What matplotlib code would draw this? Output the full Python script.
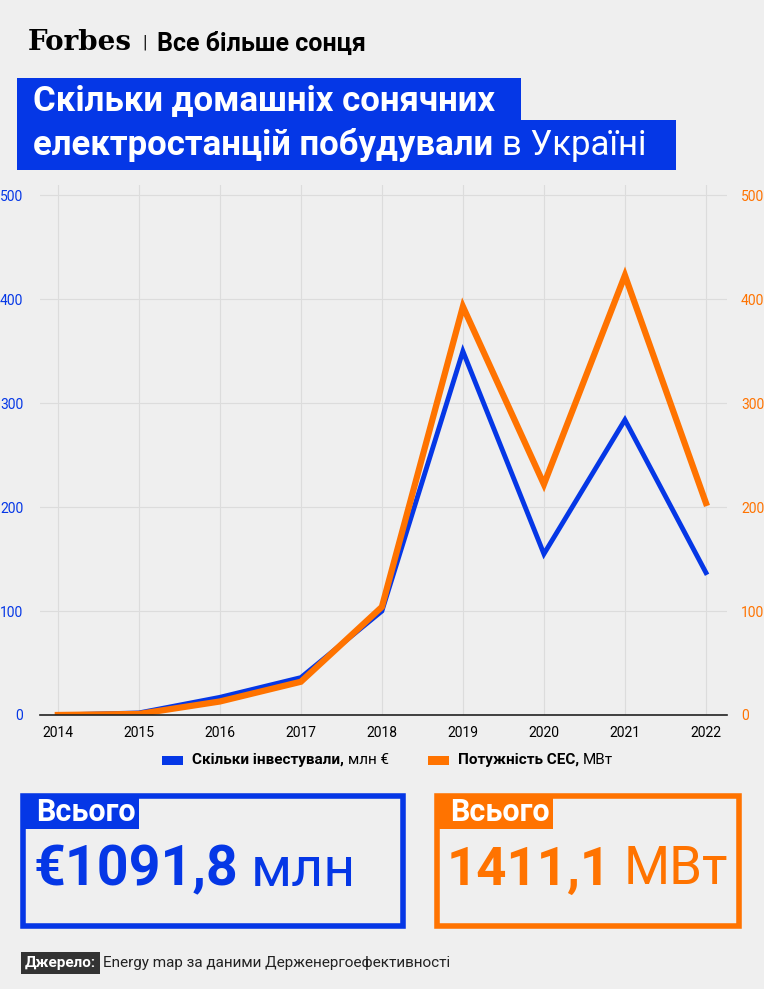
import matplotlib.pyplot as plt
from matplotlib.patches import Rectangle

years = [2014, 2015, 2016, 2017, 2018, 2019, 2020, 2021, 2022]
invest = [0, 2, 17, 36, 100, 350, 155, 284, 137]
power = [0, 1, 13, 32, 104, 393, 222, 423, 204]
yticks = [0, 100, 200, 300, 400, 500]

BLUE = '#0537e6'
ORANGE = '#ff7300'
BG = '#efefef'
W, H = 764, 989
plt.rcParams['font.family'] = ['Roboto', 'DejaVu Sans']

fig = plt.figure(figsize=(W / 100, H / 100), dpi=100, facecolor=BG)
renderer = fig.canvas.get_renderer()


def fx(px):
    return px / W


def fy(py):
    return 1 - py / H


def box(x0, y0, x1, y1, **kw):
    fig.patches.append(Rectangle((fx(x0), fy(y1)), fx(x1) - fx(x0), fy(y0) - fy(y1),
                                 transform=fig.transFigure, **kw))


def run(x, y, parts, gap=4, **kw):
    # draw text pieces one after another on one line
    for s, extra in parts:
        t = fig.text(fx(x), fy(y), s, va='center', **kw, **extra)
        bb = t.get_window_extent(renderer)
        x += bb.width + gap


# header
fig.text(fx(28), fy(43), 'Forbes', family='DejaVu Serif', fontsize=20, weight='bold',
         va='center', ha='left')
fig.text(fx(142), fy(43), '|', fontsize=14, va='center', color='#222')
fig.text(fx(157), fy(44), 'Все більше сонця', fontsize=18, va='center', weight='bold')

box(17, 78, 521, 122, color=BLUE, lw=0)
box(17, 120, 676, 170, color=BLUE, lw=0)
fig.text(fx(33), fy(101), 'Скільки домашніх сонячних', color='white', fontsize=25,
         weight='bold', va='center')
run(33, 145, [('електростанцій побудували', dict(weight='bold')), ('в Україні', {})],
    gap=9, color='white', fontsize=25)

# chart
ax = fig.add_axes([fx(40), fy(715), fx(727) - fx(40), fy(185) - fy(715)])
ax.set_facecolor(BG)
ax.plot(years, invest, color=BLUE, lw=3.5, solid_joinstyle='miter')
ax.plot(years, power, color=ORANGE, lw=4.5, solid_joinstyle='miter')
ax.set_xlim(2013.78, 2022.26)
ax.set_ylim(0, 510)
ax.set_xticks(years)
ax.set_yticks(yticks)
ax.grid(color='#dcdcdc', lw=0.8)
for s in ['top', 'left', 'right']:
    ax.spines[s].set_visible(False)
ax.spines['bottom'].set_color('#222')
ax.spines['bottom'].set_linewidth(1.2)
ax.tick_params(axis='x', length=0, labelsize=10, pad=8)
ax.tick_params(axis='y', length=0, labelsize=10, labelcolor=BLUE, pad=12)
ax2 = ax.twinx()
ax2.set_ylim(ax.get_ylim())
ax2.set_yticks(yticks)
ax2.tick_params(axis='y', length=0, labelsize=10, labelcolor=ORANGE, pad=10)
for s in ax2.spines.values():
    s.set_visible(False)

# legend
box(162, 756, 183, 765, color=BLUE, lw=0)
run(192, 760, [('Скільки інвестували,', dict(weight='bold')), ('млн €', {})], fontsize=11)
box(428, 756, 449, 765, color=ORANGE, lw=0)
run(458, 760, [('Потужність СЕС,', dict(weight='bold')), ('МВт', {})], fontsize=11)

# totals
box(23, 796, 403, 926, fill=False, ec=BLUE, lw=4)
box(21, 794, 139, 829, color=BLUE, lw=0)
fig.text(fx(36), fy(812), 'Всього', color='white', fontsize=22, weight='bold', va='center')
run(34, 870, [('€1091,8', dict(weight='bold')), ('млн', {})], gap=12,
    color=BLUE, fontsize=40)

box(437, 796, 739, 926, fill=False, ec=ORANGE, lw=4)
box(435, 794, 553, 829, color=ORANGE, lw=0)
fig.text(fx(450), fy(812), 'Всього', color='white', fontsize=22, weight='bold', va='center')
run(447, 870, [('1411,1', dict(weight='bold')), ('МВт', {})], gap=12,
    color=ORANGE, fontsize=38)

# source
fig.text(fx(25), fy(963), 'Джерело:', color='white', fontsize=11, weight='bold', va='center',
         bbox=dict(boxstyle='square,pad=0.25', fc='#333', ec='none'))
fig.text(fx(103), fy(963), 'Energy map за даними Держенергоефективності', fontsize=11,
         va='center', color='#222')

fig.savefig('out.png', dpi=100, facecolor=BG)
